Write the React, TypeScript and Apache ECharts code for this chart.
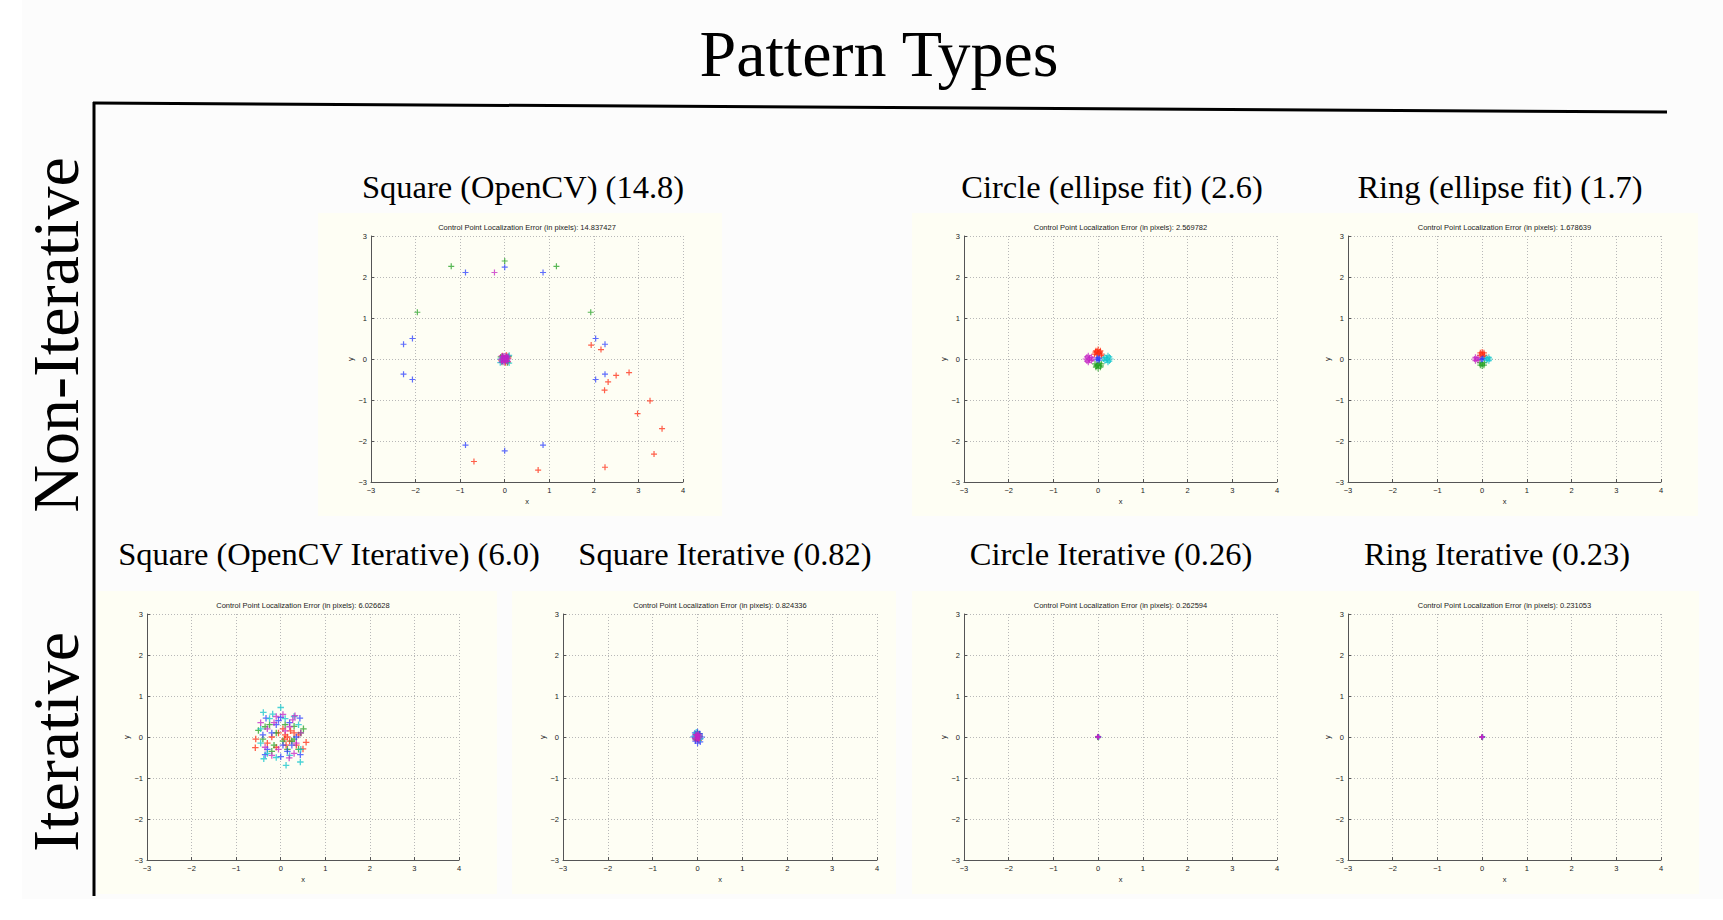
import React, { useEffect, useRef } from "react";
import * as echarts from "echarts";

// ---------- text ----------
const MAIN_TITLE = "Pattern Types";
const ROW_LABELS = ["Non-Iterative", "Iterative"];
const HEADINGS = [
  "Square (OpenCV) (14.8)",
  "Circle (ellipse fit) (2.6)",
  "Ring (ellipse fit) (1.7)",
  "Square (OpenCV Iterative) (6.0)",
  "Square Iterative (0.82)",
  "Circle Iterative (0.26)",
  "Ring Iterative (0.23)",
];
const ERRORS = ["14.837427", "2.569782", "1.678639", "6.026628", "0.824336", "0.262594", "0.231053"];
const X_TICKS = [-3, -2, -1, 0, 1, 2, 3, 4];
const Y_TICKS = [-3, -2, -1, 0, 1, 2, 3];
const SERIES_NAMES = ["red", "green", "blue", "cyan", "magenta"];

// ---------- data: Square (OpenCV) ----------
const sqOcvRed = [[1.94, 0.34], [2.16, 0.23], [2.79, -0.33], [2.5, -0.4], [2.32, -0.56], [2.24, -0.76], [3.26, -1.02], [2.98, -1.33], [3.53, -1.7], [3.35, -2.32], [2.25, -2.64], [-0.69, -2.5], [0.75, -2.71],
  [-0.05, 0.08], [0.04, 0.09], [0.08, 0.02], [-0.08, -0.03], [0.02, -0.09], [0.07, -0.07]];
const sqOcvGreen = [[0, 2.39], [-1.2, 2.26], [1.16, 2.26], [-1.96, 1.14], [1.93, 1.14],
  [0.09, 0.06], [-0.09, 0.05], [0.06, -0.09], [-0.06, -0.08]];
const sqOcvBlue = [[0, 2.24], [-0.88, 2.11], [0.86, 2.11], [-2.27, 0.36], [-2.07, 0.5], [-2.27, -0.37], [-2.07, -0.5], [2.04, 0.5], [2.25, 0.36], [2.25, -0.37], [2.04, -0.5], [-0.88, -2.1], [0.86, -2.1], [0, -2.24],
  [0, 0], [0.05, 0.05], [-0.05, -0.05], [0.05, -0.04], [-0.04, 0.06]];
const sqOcvCyan = [[-0.1, 0], [0.1, 0.09], [-0.1, -0.09], [0.1, -0.1]];
const sqOcvMagenta = [[-0.23, 2.11], [0, 0.03], [-0.03, -0.02], [0.03, -0.03], [-0.06, 0.02], [0.06, 0.03], [0, -0.07], [-0.02, 0.07], [0.04, 0],
  [-0.07, 0.07], [0.07, 0.07], [-0.07, -0.07], [0.07, -0.06], [0.08, 0.0], [-0.08, -0.01], [0.02, 0.08], [-0.02, -0.08]];

// ---------- data: Circle (ellipse fit) ----------
const circRed = [[0, 0.15], [-0.05, 0.2], [0.05, 0.2], [-0.08, 0.12], [0.08, 0.12], [0, 0.23], [-0.03, 0.1], [0.04, 0.17], [-0.06, 0.17], [0.07, 0.08], [0.02, 0.13], [-0.02, 0.19]];
const circGreen = [[0, -0.15], [-0.05, -0.2], [0.05, -0.2], [-0.07, -0.12], [0.07, -0.12], [0, -0.23], [0.03, -0.1], [-0.04, -0.17], [0.06, -0.17], [-0.02, -0.14]];
const circBlue = [[0, 0], [0.03, 0.02], [-0.03, -0.02], [0.02, -0.03], [-0.02, 0.03]];
const circCyan = [[0.2, 0], [0.25, 0.05], [0.25, -0.05], [0.15, 0.04], [0.15, -0.04], [0.28, 0], [0.22, 0.08], [0.22, -0.08], [0.12, 0], [0.19, 0.03], [0.2, -0.03]];
const circMagenta = [[-0.2, 0], [-0.25, 0.05], [-0.25, -0.05], [-0.15, 0.04], [-0.15, -0.04], [-0.28, 0], [-0.22, 0.08], [-0.22, -0.08], [-0.12, 0], [-0.19, 0.03], [-0.2, -0.03]];

// ---------- data: Ring (ellipse fit) ----------
const ringRed = [[0, 0.12], [-0.04, 0.15], [0.04, 0.15], [-0.05, 0.09], [0.05, 0.09], [0, 0.17], [0.02, 0.06]];
const ringGreen = [[0, -0.12], [-0.04, -0.15], [0.04, -0.15], [-0.05, -0.09], [0.05, -0.09], [0, -0.17]];
const ringBlue = [[0, 0], [0.02, 0.01], [-0.02, -0.01]];
const ringCyan = [[0.12, 0], [0.15, 0.04], [0.15, -0.04], [0.09, 0.03], [0.09, -0.03], [0.17, 0]];
const ringMagenta = [[-0.12, 0], [-0.15, 0.04], [-0.15, -0.04], [-0.09, 0.03], [-0.09, -0.03], [-0.17, 0]];

// ---------- data: Square (OpenCV Iterative) ----------
const sqOcvItRed = [[-0.56, -0.05], [-0.57, -0.26], [0.57, -0.13], [0.5, -0.29], [0.1, 0.05], [0.15, 0], [0.2, -0.1], [-0.05, 0.1], [0.08, -0.05], [0.3, 0.1], [-0.2, 0], [0.05, 0.2], [0.35, -0.2], [-0.3, -0.15], [0.12, -0.2], [0.22, 0.15], [-0.1, -0.25], [0.4, 0.05]];
const sqOcvItGreen = [[-0.5, 0.16], [0.51, 0.2], [0.3, 0.26], [-0.35, 0.25], [0.25, -0.1], [-0.15, -0.2], [0.05, -0.1], [-0.25, 0.3], [0.4, -0.3], [0.1, 0.3], [-0.4, -0.05], [0.3, -0.05], [-0.1, 0.1], [0.15, -0.3], [-0.2, -0.35], [0.45, 0.1]];
const sqOcvItBlue = [[-0.33, 0.46], [0.43, 0.46], [-0.35, -0.43], [0.44, -0.43], [0, 0.48], [0, -0.48], [-0.1, 0.3], [0.2, 0.35], [-0.3, -0.3], [0.15, -0.35], [-0.2, 0.1], [0.35, 0], [0.05, -0.2], [-0.4, 0.05], [0.25, -0.2], [-0.05, 0.4]];
const sqOcvItCyan = [[0, 0.72], [-0.39, 0.6], [-0.38, -0.53], [0.12, -0.69], [0.44, -0.61], [-0.18, 0.56], [0.3, 0.5], [-0.45, 0.2], [0.45, -0.3], [-0.3, -0.4], [0.1, 0.45], [-0.1, -0.5], [0.4, 0.3], [-0.25, 0.45], [0.2, -0.45], [-0.45, -0.15]];
const sqOcvItMagenta = [[0.32, 0.52], [0.27, 0.42], [0.19, -0.51], [-0.1, 0.5], [0.3, -0.4], [-0.45, 0.35], [0.45, 0.1], [-0.2, -0.45], [0.1, 0.15], [-0.3, 0.2], [0.35, -0.15], [-0.05, -0.3], [0.2, 0.25], [-0.35, -0.25], [0.05, 0.55], [-0.15, 0.35]];

// ---------- data: Square Iterative ----------
const sqItRed = [[-0.04, -0.07], [0.03, -0.08], [0, -0.05], [-0.06, -0.03]];
const sqItGreen = [[-0.04, 0.07], [0.04, 0.08], [0, 0.1], [0.05, 0.02]];
const sqItBlue = [[0, 0.13], [0, -0.15], [-0.1, 0], [0.1, 0], [-0.06, 0.1], [0.06, -0.12], [0.05, 0.08], [-0.05, -0.1]];
const sqItCyan = [[-0.07, 0.02], [0.07, -0.04], [-0.03, 0.12]];
const sqItMagenta = [[0, 0], [0.03, 0.03], [-0.03, 0], [0.02, -0.04], [0, 0.06], [-0.02, 0.04], [0.04, 0.0], [-0.03, -0.04], [0.02, 0.07], [-0.04, 0.06], [0.0, -0.03]];

// ---------- data: Circle Iterative ----------
const circItRed = [[0, 0.02], [0.01, 0.01]];
const circItGreen = [[0, -0.02], [-0.01, -0.01]];
const circItBlue = [[0, 0], [0.01, 0.01], [-0.01, 0.01]];
const circItCyan = [[0.02, 0], [0.01, -0.01]];
const circItMagenta = [[-0.01, 0], [0, 0.01], [0.01, -0.01], [0, 0]];

// ---------- data: Ring Iterative ----------
const ringItRed = [[0, 0.015], [0.01, 0.01]];
const ringItGreen = [[0, -0.015], [-0.01, -0.01]];
const ringItBlue = [[0, 0], [0.01, 0.005]];
const ringItCyan = [[0.015, 0], [0.01, -0.005]];
const ringItMagenta = [[-0.01, 0], [0, 0.01], [0.005, -0.01], [0, 0]];

const PANEL_DATA = [
  [sqOcvRed, sqOcvGreen, sqOcvBlue, sqOcvCyan, sqOcvMagenta],
  [circRed, circGreen, circBlue, circCyan, circMagenta],
  [ringRed, ringGreen, ringBlue, ringCyan, ringMagenta],
  [sqOcvItRed, sqOcvItGreen, sqOcvItBlue, sqOcvItCyan, sqOcvItMagenta],
  [sqItRed, sqItGreen, sqItBlue, sqItCyan, sqItMagenta],
  [circItRed, circItGreen, circItBlue, circItCyan, circItMagenta],
  [ringItRed, ringItGreen, ringItBlue, ringItCyan, ringItMagenta],
];

// ---------- layout / style ----------
const COLORS = ["#ff2a10", "#22a022", "#2a3cff", "#10c4cc", "#c424c4"];
const LAYOUT = [
  { grid: [371, 236, 312, 246], bg: [318, 213, 722, 516], headingX: 523, headingY: 187, symbol: 6 },
  { grid: [964, 236, 313, 246], bg: [912, 213, 1302, 516], headingX: 1112, headingY: 187, symbol: 6 },
  { grid: [1348, 236, 313, 246], bg: [1302, 213, 1698, 516], headingX: 1500, headingY: 187, symbol: 6 },
  { grid: [147, 614, 312, 246], bg: [97, 591, 497, 894], headingX: 329, headingY: 554, symbol: 6.5 },
  { grid: [563, 614, 314, 246], bg: [512, 591, 896, 894], headingX: 725, headingY: 554, symbol: 6 },
  { grid: [964, 614, 313, 246], bg: [912, 591, 1302, 894], headingX: 1111, headingY: 554, symbol: 5 },
  { grid: [1348, 614, 313, 246], bg: [1302, 591, 1699, 894], headingX: 1497, headingY: 554, symbol: 5 },
];

const PLUS = "path://M4,0H6V4H10V6H6V10H4V6H0V4H4Z";
const fmtTick = (v: number) => (v < 0 ? "\u2212" + Math.abs(v) : String(v));

export default function App() {
  const ref = useRef<HTMLDivElement>(null);
  useEffect(() => {
    document.body.style.margin = "0";
    if (!ref.current) return;
    const chart = echarts.init(ref.current, undefined, { renderer: "svg" });

    const grids: any[] = [];
    const xAxes: any[] = [];
    const yAxes: any[] = [];
    const series: any[] = [];
    const graphics: any[] = [];

    graphics.push({ type: "rect", z: -20, shape: { x: 22, y: 0, width: 1701, height: 899 }, style: { fill: "#fcfcfc" } });

    LAYOUT.forEach((p, i) => {
      const [l, t, w, h] = p.grid;
      const [bx0, by0, bx1, by1] = p.bg;
      graphics.push({ type: "rect", z: -10, shape: { x: bx0, y: by0, width: bx1 - bx0, height: by1 - by0 }, style: { fill: "#fefef4" } });
      graphics.push({
        type: "text", x: l + w / 2, y: t - 9,
        style: { text: "Control Point Localization Error (in pixels): " + ERRORS[i], fontSize: 7.5, fontFamily: "Liberation Sans", fill: "#222", align: "center", verticalAlign: "middle" },
      });
      graphics.push({
        type: "text", x: p.headingX, y: p.headingY,
        style: { text: HEADINGS[i], fontSize: 32.5, fontFamily: "Liberation Serif", fill: "#000", align: "center", verticalAlign: "middle" },
      });
      grids.push({ left: l, top: t, width: w, height: h, containLabel: false, show: false });
      const axisCommon = {
        gridIndex: i,
        interval: 1,
        axisLine: { show: true, onZero: false, lineStyle: { color: "#555", width: 1 } },
        axisTick: { show: true, inside: true, length: 3, lineStyle: { color: "#555" } },
        axisLabel: { fontSize: 7.5, fontFamily: "Liberation Sans", color: "#222", formatter: fmtTick, margin: 4 },
        splitLine: { show: true, showMinLine: true, showMaxLine: true, lineStyle: { color: "#b8b8b8", type: [1, 2], width: 1 } },
        nameLocation: "middle",
        nameTextStyle: { fontSize: 7.5, fontFamily: "Liberation Sans", color: "#222" },
      };
      xAxes.push({ ...axisCommon, type: "value", min: X_TICKS[0], max: X_TICKS[X_TICKS.length - 1], name: "x", nameGap: 15 });
      yAxes.push({ ...axisCommon, type: "value", min: Y_TICKS[0], max: Y_TICKS[Y_TICKS.length - 1], name: "y", nameGap: 15 });
      PANEL_DATA[i].forEach((d, k) => {
        series.push({
          type: "scatter",
          name: SERIES_NAMES[k] + i,
          xAxisIndex: i,
          yAxisIndex: i,
          data: d,
          symbol: PLUS,
          symbolSize: p.symbol,
          itemStyle: { color: COLORS[k], opacity: 0.75 },
          silent: true,
        });
      });
    });

    graphics.push({
      type: "text", x: 879, y: 53,
      style: { text: MAIN_TITLE, fontSize: 66, fontFamily: "Liberation Serif", fill: "#000", align: "center", verticalAlign: "middle" },
    });
    graphics.push({ type: "line", shape: { x1: 93, y1: 103, x2: 1667, y2: 112 }, style: { stroke: "#000", lineWidth: 3 } });
    graphics.push({ type: "line", shape: { x1: 94, y1: 102, x2: 94, y2: 896 }, style: { stroke: "#000", lineWidth: 3 } });
    graphics.push({
      type: "text", x: 55, y: 335, rotation: Math.PI / 2,
      style: { text: ROW_LABELS[0], fontSize: 66, fontFamily: "Liberation Serif", fill: "#000", align: "center", verticalAlign: "middle" },
    });
    graphics.push({
      type: "text", x: 55, y: 742, rotation: Math.PI / 2,
      style: { text: ROW_LABELS[1], fontSize: 66, fontFamily: "Liberation Serif", fill: "#000", align: "center", verticalAlign: "middle" },
    });

    chart.setOption({
      animation: false,
      backgroundColor: "#ffffff",
      grid: grids,
      xAxis: xAxes,
      yAxis: yAxes,
      series,
      graphic: { elements: graphics },
    });
    return () => chart.dispose();
  }, []);
  return <div ref={ref} style={{ position: "absolute", left: 0, top: 0, width: 1723, height: 920 }} />;
}
